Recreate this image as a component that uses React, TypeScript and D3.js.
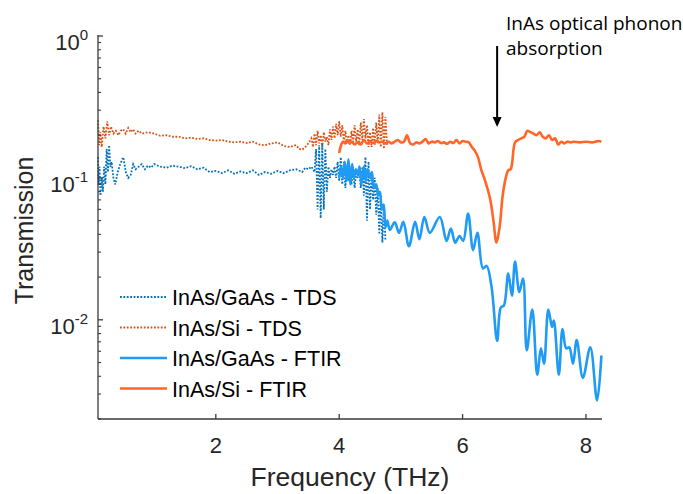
import React from "react";
import * as d3 from "d3";

const W = 683;
const H = 494;

// InAs/GaAs – time-domain spectroscopy
const tdsGaAsFreq = [
  0.09, 0.1, 0.115, 0.13, 0.15, 0.17, 0.19, 0.21, 0.23, 0.25, 0.27, 0.29, 0.31, 0.34, 0.37, 0.41,
  0.45, 0.5, 0.54, 0.58, 0.62, 0.66, 0.7, 0.75, 0.8, 0.85, 0.9, 0.95, 1.0, 1.1, 1.2, 1.3, 1.4,
  1.5, 1.6, 1.7, 1.8, 1.9, 2.0, 2.1, 2.2, 2.3, 2.4, 2.5, 2.6, 2.7, 2.8, 2.9, 3.0, 3.1, 3.2, 3.3,
  3.4, 3.45, 3.5, 3.55, 3.6, 3.625, 3.65, 3.675, 3.7, 3.725, 3.75, 3.775, 3.8, 3.825, 3.85,
  3.875, 3.9, 3.925, 3.95, 3.975, 4.0, 4.025, 4.05, 4.075, 4.1, 4.125, 4.15, 4.175, 4.2, 4.225,
  4.25, 4.275, 4.3, 4.325, 4.35, 4.375, 4.4, 4.425, 4.45, 4.475, 4.5, 4.525, 4.55, 4.575, 4.6,
  4.625, 4.65, 4.675, 4.7, 4.725, 4.75,
];
const tdsGaAsT = [
  0.14, 0.09, 0.12, 0.075, 0.1, 0.08, 0.12, 0.09, 0.16, 0.11, 0.17, 0.12, 0.13, 0.1, 0.09, 0.11,
  0.125, 0.14, 0.11, 0.1, 0.105, 0.125, 0.115, 0.12, 0.125, 0.115, 0.122, 0.118, 0.125, 0.12,
  0.118, 0.122, 0.12, 0.117, 0.121, 0.115, 0.118, 0.11, 0.112, 0.108, 0.113, 0.107, 0.111, 0.108,
  0.113, 0.105, 0.11, 0.107, 0.112, 0.108, 0.113, 0.115, 0.11, 0.118, 0.115, 0.12, 0.11, 0.16,
  0.06, 0.17, 0.052, 0.175, 0.06, 0.16, 0.08, 0.12, 0.1, 0.115, 0.105, 0.12, 0.1, 0.13, 0.095,
  0.14, 0.09, 0.13, 0.085, 0.12, 0.095, 0.11, 0.09, 0.115, 0.085, 0.11, 0.1, 0.115, 0.085, 0.12,
  0.075, 0.14, 0.05, 0.13, 0.06, 0.11, 0.07, 0.1, 0.055, 0.085, 0.04, 0.075, 0.035, 0.065, 0.036,
];

// InAs/Si – time-domain spectroscopy
const tdsSiFreq = [
  0.09, 0.11, 0.13, 0.15, 0.18, 0.21, 0.24, 0.27, 0.3, 0.34, 0.38, 0.42, 0.46, 0.5, 0.54, 0.58,
  0.62, 0.66, 0.7, 0.75, 0.8, 0.9, 1.0, 1.1, 1.2, 1.3, 1.4, 1.5, 1.6, 1.7, 1.8, 1.9, 2.0, 2.1,
  2.2, 2.3, 2.4, 2.5, 2.6, 2.7, 2.8, 2.9, 3.0, 3.1, 3.2, 3.3, 3.35, 3.4, 3.45, 3.5, 3.55, 3.575,
  3.6, 3.625, 3.65, 3.675, 3.7, 3.725, 3.75, 3.775, 3.8, 3.825, 3.85, 3.875, 3.9, 3.925, 3.95,
  3.975, 4.0, 4.025, 4.05, 4.075, 4.1, 4.125, 4.15, 4.175, 4.2, 4.225, 4.25, 4.275, 4.3, 4.325,
  4.35, 4.375, 4.4, 4.425, 4.45, 4.475, 4.5, 4.525, 4.55, 4.575, 4.6, 4.625, 4.65, 4.675, 4.7,
  4.725, 4.75, 4.775,
];
const tdsSiT = [
  0.255, 0.17, 0.21, 0.165, 0.23, 0.19, 0.25, 0.2, 0.23, 0.205, 0.215, 0.2, 0.215, 0.22, 0.205,
  0.225, 0.21, 0.22, 0.205, 0.215, 0.205, 0.21, 0.205, 0.198, 0.2, 0.195, 0.195, 0.19, 0.192,
  0.188, 0.19, 0.185, 0.183, 0.185, 0.18, 0.178, 0.18, 0.176, 0.18, 0.172, 0.17, 0.175, 0.178,
  0.168, 0.165, 0.17, 0.16, 0.158, 0.165, 0.175, 0.19, 0.165, 0.205, 0.17, 0.215, 0.175, 0.2,
  0.165, 0.21, 0.18, 0.195, 0.17, 0.22, 0.185, 0.23, 0.19, 0.24, 0.2, 0.25, 0.195, 0.235, 0.18,
  0.215, 0.175, 0.2, 0.17, 0.215, 0.175, 0.235, 0.18, 0.22, 0.17, 0.245, 0.185, 0.26, 0.19,
  0.235, 0.165, 0.21, 0.165, 0.225, 0.17, 0.245, 0.175, 0.28, 0.165, 0.29, 0.16, 0.27, 0.17,
];

// InAs/GaAs – FTIR
const ftirGaAsFreq = [
  4.0, 4.03, 4.06, 4.09, 4.12, 4.15, 4.18, 4.21, 4.24, 4.27, 4.3, 4.33, 4.36, 4.4, 4.43, 4.46,
  4.5, 4.53, 4.56, 4.6, 4.63, 4.66, 4.69, 4.72, 4.75, 4.78, 4.82, 4.9, 4.97, 5.04, 5.13, 5.23,
  5.3, 5.38, 5.47, 5.63, 5.74, 5.81, 5.88, 5.95, 6.01, 6.09, 6.17, 6.24, 6.33, 6.39, 6.47, 6.56,
  6.62, 6.67, 6.74, 6.8, 6.85, 6.92, 6.98, 7.04, 7.13, 7.21, 7.27, 7.32, 7.39, 7.45, 7.48, 7.56,
  7.62, 7.68, 7.73, 7.79, 7.85, 7.95, 8.07, 8.18, 8.25,
];
const ftirGaAsT = [
  0.1, 0.12, 0.1, 0.13, 0.095, 0.135, 0.09, 0.125, 0.1, 0.115, 0.105, 0.12, 0.09, 0.12, 0.095,
  0.115, 0.1, 0.11, 0.085, 0.09, 0.075, 0.08, 0.06, 0.065, 0.045, 0.05, 0.043, 0.0486, 0.041,
  0.049, 0.033, 0.049, 0.037, 0.053, 0.041, 0.053, 0.036, 0.044, 0.035, 0.039, 0.036, 0.056,
  0.031, 0.041, 0.023, 0.024, 0.017, 0.0071, 0.0122, 0.0126, 0.0212, 0.0148, 0.0257, 0.0157,
  0.0195, 0.0061, 0.0118, 0.0041, 0.0063, 0.0049, 0.0118, 0.0089, 0.0099, 0.0041, 0.0086,
  0.0063, 0.0064, 0.0049, 0.0072, 0.0039, 0.0064, 0.0027, 0.0056,
];

// InAs/Si – FTIR
const ftirSiFreq = [
  4.0, 4.03, 4.06, 4.1, 4.13, 4.17, 4.2, 4.25, 4.3, 4.35, 4.4, 4.45, 4.5, 4.55, 4.6, 4.65, 4.7,
  4.75, 4.8, 4.85, 4.9, 4.95, 5.0, 5.05, 5.1, 5.15, 5.2, 5.25, 5.3, 5.35, 5.4, 5.45, 5.5, 5.55,
  5.6, 5.65, 5.7, 5.75, 5.8, 5.85, 5.9, 5.95, 6.0, 6.05, 6.1, 6.15, 6.2, 6.25, 6.3, 6.35, 6.4,
  6.45, 6.5, 6.55, 6.6, 6.65, 6.7, 6.74, 6.78, 6.85, 6.9, 6.95, 7.0, 7.05, 7.1, 7.15, 7.2, 7.25,
  7.3, 7.35, 7.4, 7.45, 7.5, 7.55, 7.6, 7.65, 7.7, 7.75, 7.8, 7.9, 8.0, 8.1, 8.2, 8.25,
];
const ftirSiT = [
  0.15, 0.17, 0.18, 0.175, 0.185, 0.175, 0.18, 0.172, 0.178, 0.172, 0.185, 0.175, 0.18, 0.176,
  0.182, 0.178, 0.18, 0.175, 0.18, 0.175, 0.18, 0.185, 0.178, 0.18, 0.2, 0.175, 0.172, 0.178,
  0.175, 0.18, 0.188, 0.175, 0.18, 0.178, 0.182, 0.176, 0.178, 0.174, 0.18, 0.176, 0.185, 0.175,
  0.182, 0.18, 0.178, 0.165, 0.155, 0.14, 0.115, 0.1, 0.085, 0.07, 0.05, 0.035, 0.045, 0.075,
  0.1, 0.113, 0.115, 0.178, 0.185, 0.19, 0.195, 0.215, 0.21, 0.205, 0.2, 0.21, 0.195, 0.19, 0.2,
  0.185, 0.19, 0.172, 0.18, 0.175, 0.18, 0.178, 0.18, 0.178, 0.18, 0.178, 0.182, 0.18,
];

const xTicks = [2, 4, 6, 8];
const yDecades = [-2, -1, 0];

const legendLabels = [
  "InAs/GaAs - TDS",
  "InAs/Si - TDS",
  "InAs/GaAs - FTIR",
  "InAs/Si - FTIR",
];

const annotationLines = ["InAs optical phonon", "absorption"];

const C_TDS_GAAS = "#0072BD";
const C_TDS_SI = "#D95319";
const C_FTIR_GAAS = "#1F9BF5";
const C_FTIR_SI = "#FF6628";
const AXIS = "#3a3a3a";
const FONT = "'Liberation Sans', Arial, Helvetica, sans-serif";

const left = 98;
const right = 602;
const top = 36;
const bottom = 419;

export default function App() {
  const x = d3.scaleLinear().domain([0.09, 8.26]).range([left, right]);
  const y = d3.scaleLog().domain([0.002, 1]).range([bottom, top]);

  const zip = (f: number[], t: number[]) => f.map((v, i) => [v, t[i]] as [number, number]);

  const lineRaw = d3
    .line<[number, number]>()
    .x((d) => x(d[0]))
    .y((d) => y(d[1]));
  const lineSmooth = d3
    .line<[number, number]>()
    .x((d) => x(d[0]))
    .y((d) => y(d[1]))
    .curve(d3.curveCatmullRom.alpha(0.5));

  const minorTicks: number[] = [];
  for (let e = -3; e <= 0; e++) {
    for (let m = 2; m <= 9; m++) {
      const v = m * Math.pow(10, e);
      if (v >= 0.002 && v < 1) minorTicks.push(v);
    }
  }

  const legendStyles = [
    { color: C_TDS_GAAS, dash: "1.8 1.6", width: 1.8 },
    { color: C_TDS_SI, dash: "1.8 1.6", width: 1.8 },
    { color: C_FTIR_GAAS, dash: undefined, width: 2.6 },
    { color: C_FTIR_SI, dash: undefined, width: 2.6 },
  ];

  const arrowX = x(6.56);

  return (
    <svg
      width={W}
      height={H}
      style={{ position: "absolute", left: 0, top: 0, background: "#fff" }}
      fontFamily={FONT}
    >
      {/* measured spectra */}
      <path
        d={lineRaw(zip(tdsSiFreq, tdsSiT)) || ""}
        fill="none"
        stroke={C_TDS_SI}
        strokeWidth={1.8}
        strokeDasharray="1.8 1.6"
      />
      <path
        d={lineRaw(zip(tdsGaAsFreq, tdsGaAsT)) || ""}
        fill="none"
        stroke={C_TDS_GAAS}
        strokeWidth={1.8}
        strokeDasharray="1.8 1.6"
      />
      <path
        d={lineSmooth(zip(ftirGaAsFreq, ftirGaAsT)) || ""}
        fill="none"
        stroke={C_FTIR_GAAS}
        strokeWidth={2.6}
        strokeLinejoin="round"
      />
      <path
        d={lineSmooth(zip(ftirSiFreq, ftirSiT)) || ""}
        fill="none"
        stroke={C_FTIR_SI}
        strokeWidth={2.6}
        strokeLinejoin="round"
      />

      {/* axes */}
      <line x1={left} x2={left} y1={top - 1} y2={bottom} stroke={AXIS} strokeWidth={1.3} />
      <line x1={left} x2={right} y1={bottom} y2={bottom} stroke={AXIS} strokeWidth={1.3} />

      {xTicks.map((t) => (
        <g key={`xt${t}`}>
          <line x1={x(t)} x2={x(t)} y1={bottom} y2={bottom - 5} stroke={AXIS} strokeWidth={1.3} />
          <text x={x(t)} y={453} fontSize={22} textAnchor="middle" fill="#262626">
            {t}
          </text>
        </g>
      ))}

      {minorTicks.map((v, i) => (
        <line
          key={`ym${i}`}
          x1={left}
          x2={left + 3}
          y1={y(v)}
          y2={y(v)}
          stroke={AXIS}
          strokeWidth={1.1}
        />
      ))}

      {yDecades.map((e) => (
        <g key={`yd${e}`}>
          <line
            x1={left}
            x2={left + 5}
            y1={y(Math.pow(10, e))}
            y2={y(Math.pow(10, e))}
            stroke={AXIS}
            strokeWidth={1.3}
          />
          <text x={88} y={y(Math.pow(10, e)) + 14} fontSize={22} textAnchor="end" fill="#262626">
            10
            <tspan dy={-10} fontSize={15}>
              {e}
            </tspan>
          </text>
        </g>
      ))}

      <text x={(left + right) / 2} y={486} fontSize={26.5} textAnchor="middle" fill="#262626">
        Frequency (THz)
      </text>
      <text
        transform={`translate(33, ${(top + bottom) / 2 + 3}) rotate(-90)`}
        fontSize={25}
        textAnchor="middle"
        fill="#262626"
      >
        Transmission
      </text>

      {/* legend */}
      {legendLabels.map((label, i) => {
        const ly = 297 + i * 30.5;
        const s = legendStyles[i];
        return (
          <g key={label}>
            <line
              x1={120}
              x2={167}
              y1={ly}
              y2={ly}
              stroke={s.color}
              strokeWidth={s.width}
              strokeDasharray={s.dash}
            />
            <text x={172} y={ly + 8} fontSize={21.5} fill="#000">
              {label}
            </text>
          </g>
        );
      })}

      {/* phonon annotation */}
      <text fontSize={19} fill="#000" fontFamily="'Open Sans', 'Noto Sans', sans-serif">
        {annotationLines.map((l, i) => (
          <tspan key={l} x={506} y={30 + i * 25}>
            {l}
          </tspan>
        ))}
      </text>
      <line x1={arrowX} x2={arrowX} y1={46} y2={119} stroke="#000" strokeWidth={2} />
      <path
        d={`M${arrowX - 4.5},${117} L${arrowX + 4.5},${117} L${arrowX},${127} Z`}
        fill="#000"
      />
    </svg>
  );
}
